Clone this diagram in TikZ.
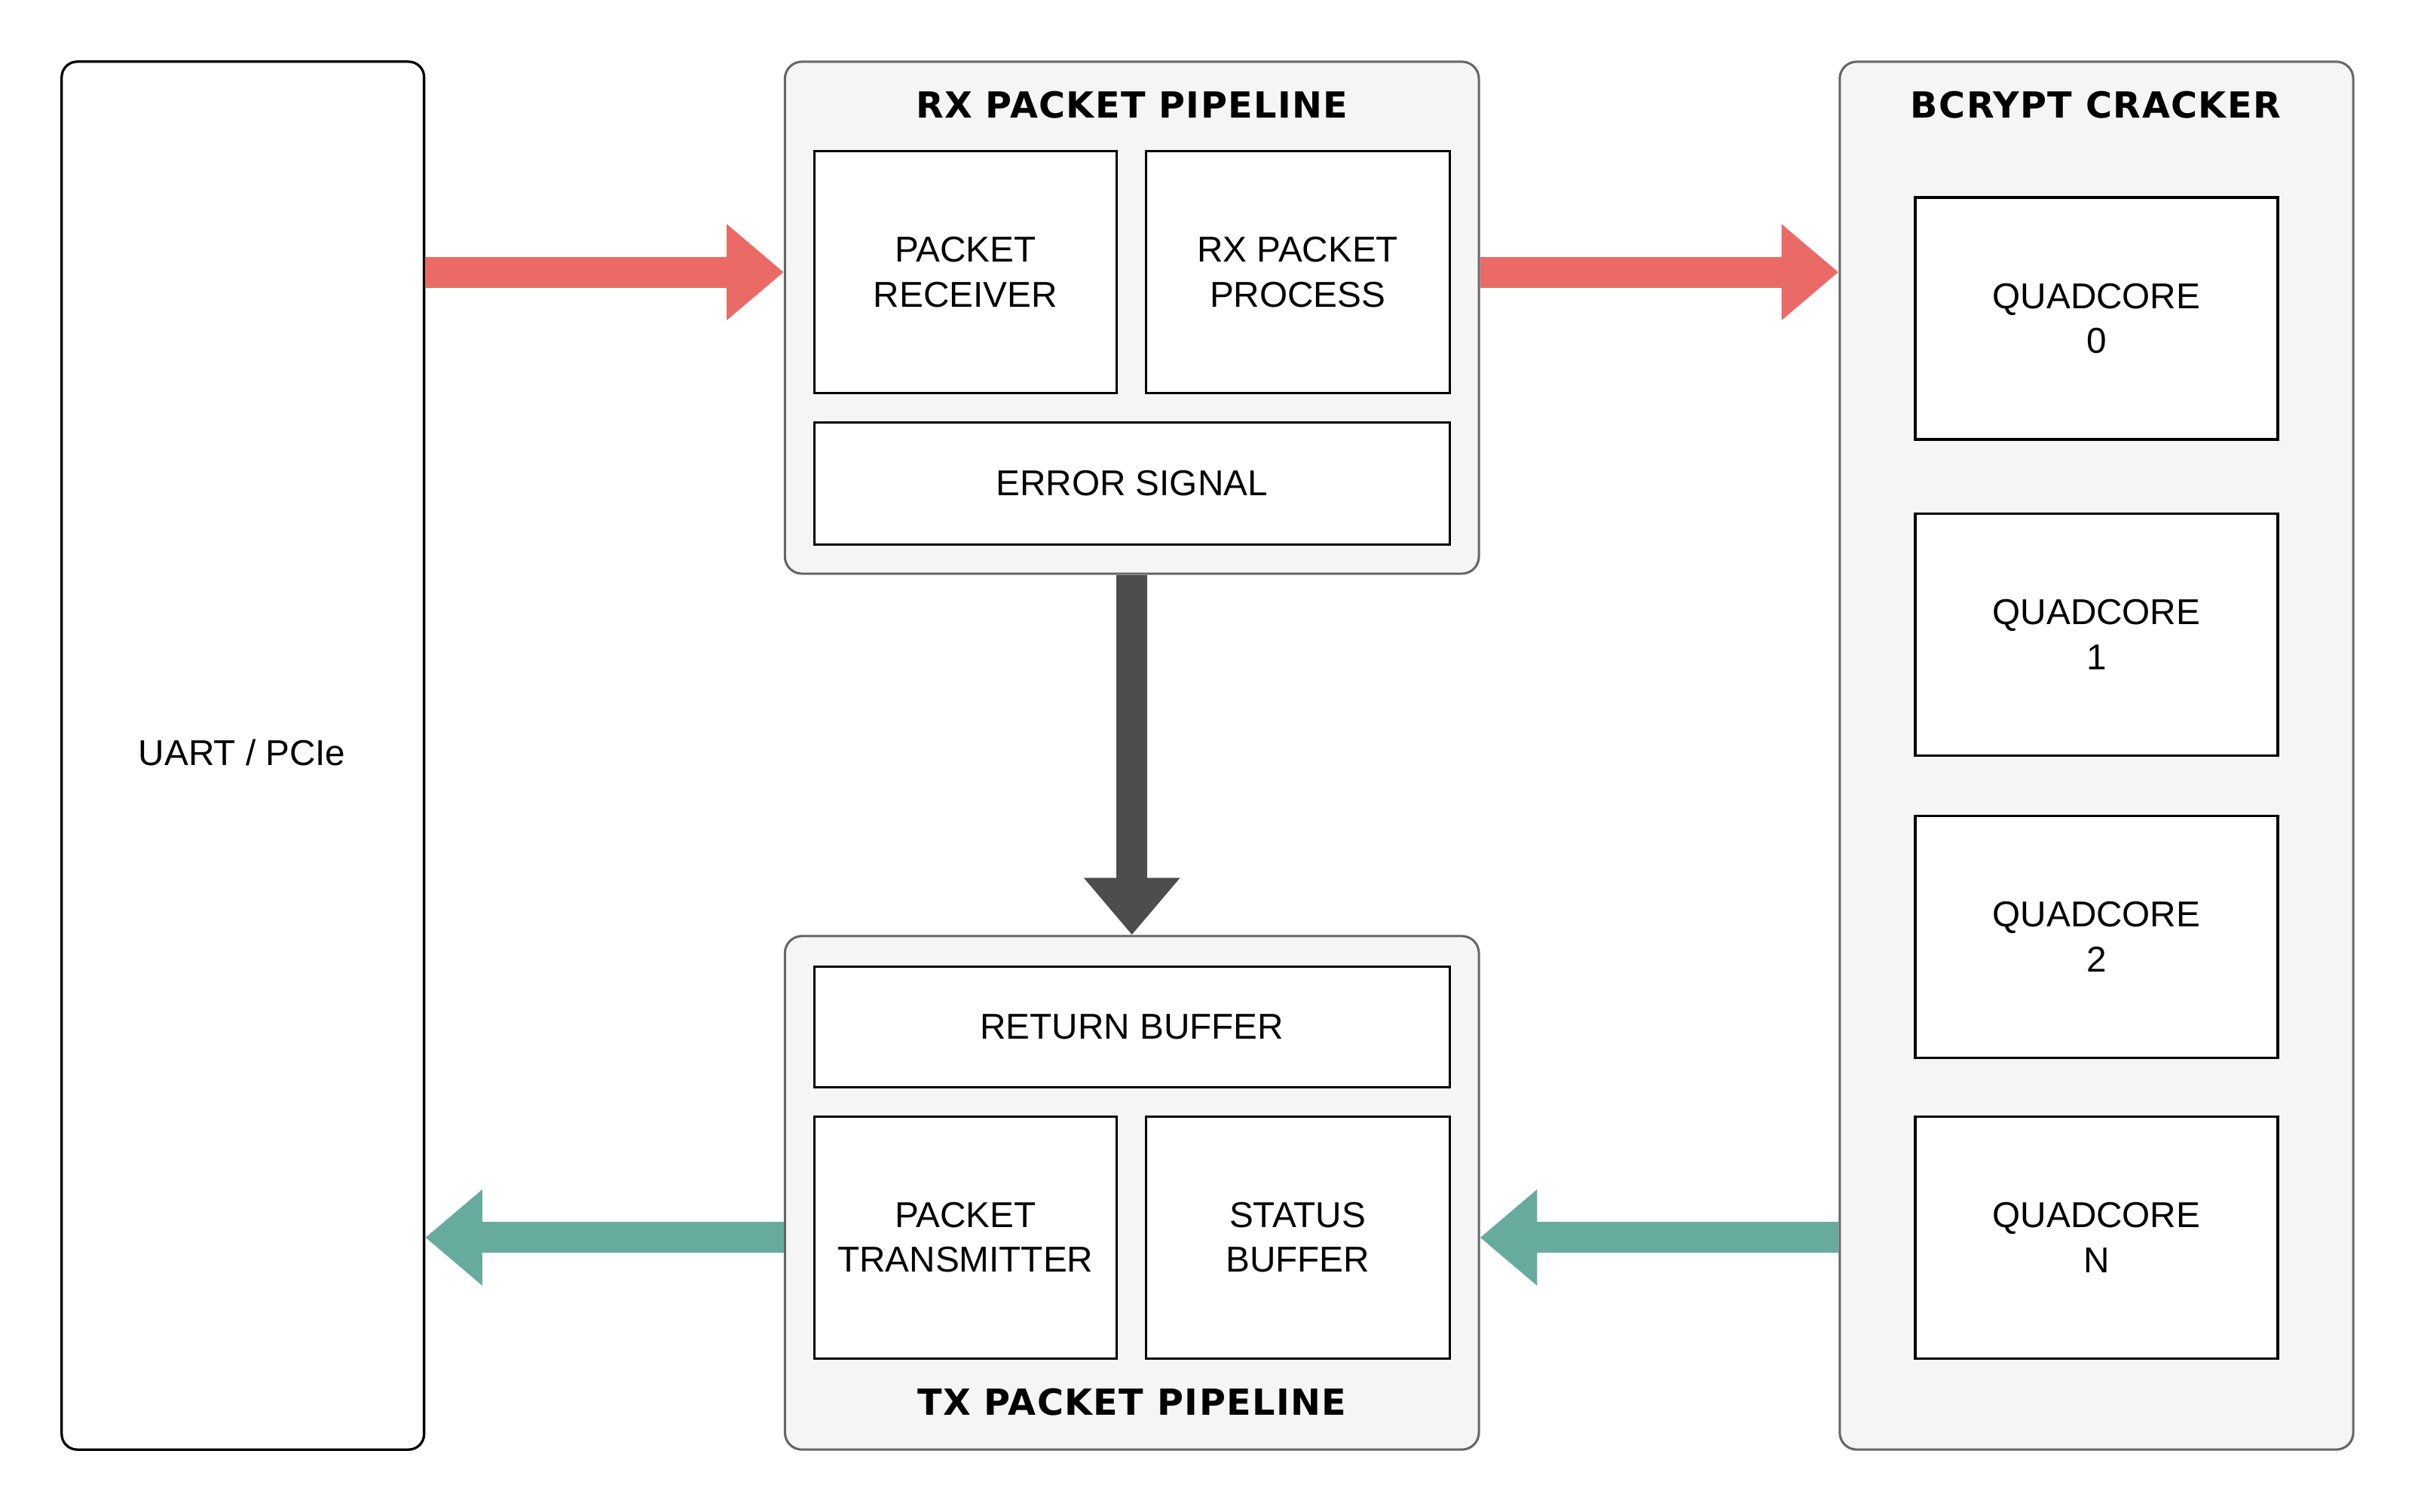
\documentclass[tikz,border=0pt]{standalone}
\usepackage{fontspec}
\setmainfont{Liberation Sans}
\newfontfamily\headfont{DejaVu Sans}[LetterSpace=3]
\usetikzlibrary{arrows.meta}
\definecolor{groupfill}{HTML}{F5F5F5}
\definecolor{groupline}{HTML}{666666}
\definecolor{rxred}{HTML}{EA6B66}
\definecolor{txteal}{HTML}{67AB9F}
\definecolor{errgray}{HTML}{4D4D4D}
\tikzstyle{block} = [draw, line width=1.6pt, fill=white, rectangle,
    align=center, font=\fontsize{23.3}{29}\selectfont]
\tikzstyle{group} = [draw=groupline, line width=1.5pt, fill=groupfill,
    rectangle, rounded corners=11pt]
\tikzstyle{title} = [font=\headfont\bfseries\fontsize{23.3}{29}\selectfont]
\tikzstyle{flow} = [line width=20pt, -{Triangle[length=37pt,width=60pt]}]

\begin{document}
\begin{tikzpicture}[x=1pt,y=-1pt]
\useasboundingbox (0,0) rectangle (1568,980);

\node[block, rounded corners=10pt, minimum width=235pt, minimum height=900pt] (uart) at (157.5,490) {};
\node[font=\fontsize{23.3}{29}\selectfont] (uartlabel) at (157,488) {UART / PCIe};

\node[group, minimum width=450pt, minimum height=332pt] (rx) at (734,206) {};
\node[title] (rxtitle) at (734,68) {RX PACKET PIPELINE};
\node[block, minimum width=196pt, minimum height=157pt] (recv) at (626,176.5) {PACKET\\RECEIVER};
\node[block, minimum width=197pt, minimum height=157pt] (proc) at (841.5,176.5) {RX PACKET\\PROCESS};
\node[block, minimum width=412pt, minimum height=79pt] (err) at (734,313.5) {ERROR SIGNAL};

\node[group, minimum width=450pt, minimum height=333pt] (tx) at (734,773.5) {};
\node[title] (txtitle) at (734,909) {TX PACKET PIPELINE};
\node[block, minimum width=412pt, minimum height=78pt] (ret) at (734,666) {RETURN BUFFER};
\node[block, minimum width=196pt, minimum height=157pt] (trans) at (626,802.5) {PACKET\\TRANSMITTER};
\node[block, minimum width=197pt, minimum height=157pt] (stat) at (841.5,802.5) {STATUS\\BUFFER};

\node[group, minimum width=333pt, minimum height=900pt] (bc) at (1359.5,490) {};
\node[title] (bctitle) at (1359,68) {BCRYPT CRACKER};
\foreach \n/\y/\lbl in {q0/206.5/0, q1/411.5/1, q2/607.5/2, qN/802.5/N}
  \node[block, minimum width=235pt, minimum height=157pt] (\n) at (1359.5,\y) {QUADCORE\\\lbl};

\draw[flow, rxred] (uart.east |- recv) -- (rx.west |- recv);
\draw[flow, rxred] (rx.east |- proc) -- (bc.west |- proc);
\draw[flow, errgray] (rx.south) -- (tx.north);
\draw[flow, txteal] (tx.west |- trans) -- (uart.east |- trans);
\draw[flow, txteal] (bc.west |- qN) -- (tx.east |- qN);

\end{tikzpicture}
\end{document}
